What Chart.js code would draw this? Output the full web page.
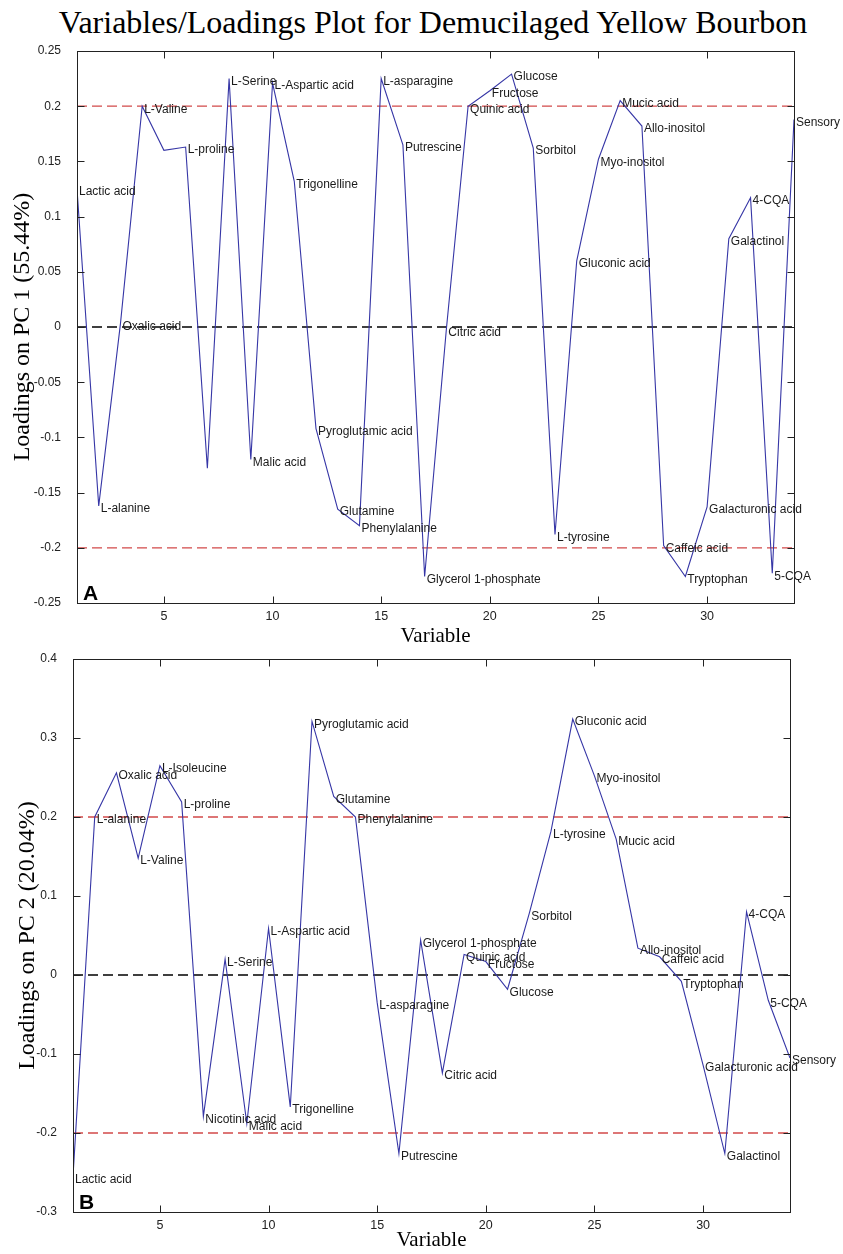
<!DOCTYPE html>
<html><head><meta charset="utf-8">
<script src="https://cdn.jsdelivr.net/npm/chart.js@4.4.1/dist/chart.umd.min.js"></script>
<style>
html,body{margin:0;padding:0;background:#fff;}
body{width:843px;height:1254px;position:relative;overflow:hidden;}
#title{position:absolute;left:0;top:6px;width:866px;text-align:center;font-family:'Liberation Serif','Times New Roman',serif;font-size:32px;line-height:32px;color:#000;white-space:nowrap;}
canvas{position:absolute;left:0;}
</style></head><body>
<div id="title">Variables/Loadings Plot for Demucilaged Yellow Bourbon</div>
<canvas id="c1" width="843" height="650" style="top:0"></canvas>
<canvas id="c2" width="843" height="604" style="top:650px"></canvas>
<script>
const variableNames = ['Lactic acid','L-alanine','Oxalic acid','L-Valine','L-Isoleucine','L-proline','Nicotinic acid','L-Serine','Malic acid','L-Aspartic acid','Trigonelline','Pyroglutamic acid','Glutamine','Phenylalanine','L-asparagine','Putrescine','Glycerol 1-phosphate','Citric acid','Quinic acid','Fructose','Glucose','Sorbitol','L-tyrosine','Gluconic acid','Myo-inositol','Mucic acid','Allo-inositol','Caffeic acid','Tryptophan','Galacturonic acid','Galactinol','4-CQA','5-CQA','Sensory'];
const pc1Loadings = [0.125,-0.162,0.003,0.2,0.16,0.163,-0.128,0.225,-0.12,0.221,0.132,-0.092,-0.165,-0.18,0.225,0.165,-0.226,-0.002,0.2,0.214,0.229,0.162,-0.188,0.06,0.152,0.205,0.182,-0.198,-0.226,-0.163,0.08,0.117,-0.223,0.188];
const pc2Loadings = [-0.255,0.2,0.256,0.148,0.265,0.219,-0.179,0.02,-0.188,0.059,-0.167,0.321,0.226,0.2,-0.035,-0.226,0.044,-0.124,0.026,0.017,-0.018,0.078,0.182,0.324,0.252,0.172,0.034,0.023,-0.008,-0.114,-0.226,0.08,-0.032,-0.105];
const pc1HiddenLabels = ['L-Isoleucine','Nicotinic acid'];
const pc1YTicks = [-0.25,-0.2,-0.15,-0.1,-0.05,0,0.05,0.1,0.15,0.2,0.25];
const pc2YTicks = [-0.3,-0.2,-0.1,0,0.1,0.2,0.3,0.4];
const xTicks = [5,10,15,20,25,30];
const thresholdLevels = [0.2,-0.2];
const zeroLevel = 0;
const xRange = [1,34];

function fmt(v){ return String(Number(v.toFixed(2))); }

function makeBoxPlugin(labels, letter){
  return {
    id:'matlabBox',
    afterDatasetsDraw(chart){
      const ctx = chart.ctx, a = chart.chartArea, xs = chart.scales.x, ys = chart.scales.y;
      ctx.save();
      // point labels
      const meta = chart.getDatasetMeta(0);
      ctx.font = '12px "Liberation Sans", Arial, sans-serif';
      ctx.fillStyle = '#1a1a1a';
      ctx.textAlign = 'left';
      ctx.textBaseline = 'middle';
      meta.data.forEach((pt,i)=>{ const t = labels[i]; if(t) ctx.fillText(t, pt.x+2, pt.y+3); });
      // box
      const L = Math.round(a.left)+0.5, T = Math.round(a.top)+0.5, R = Math.round(a.right)+0.5, B = Math.round(a.bottom)+0.5;
      ctx.strokeStyle = '#222'; ctx.lineWidth = 1;
      ctx.strokeRect(L, T, R-L, B-T);
      // inward ticks
      const tl = 7;
      ctx.beginPath();
      xs.ticks.forEach(t=>{ const px = Math.round(xs.getPixelForValue(t.value))+0.5; ctx.moveTo(px,B); ctx.lineTo(px,B-tl); ctx.moveTo(px,T); ctx.lineTo(px,T+tl); });
      ys.ticks.forEach(t=>{ const py = Math.round(ys.getPixelForValue(t.value))+0.5; ctx.moveTo(L,py); ctx.lineTo(L+tl,py); ctx.moveTo(R,py); ctx.lineTo(R-tl,py); });
      ctx.stroke();
      // panel letter
      ctx.fillStyle = '#000';
      ctx.font = 'bold 21px "Liberation Sans", Arial, sans-serif';
      ctx.textBaseline = 'alphabetic';
      ctx.fillText(letter, a.left+6, a.bottom-3);
      ctx.restore();
    }
  };
}

function makeChart(id, values, labels, yTicks, yTitle, padding, yWidth, xHeight, yTitlePad, letter){
  const pts = values.map((v,i)=>({x:i+1, y:v}));
  const refLine = (lvl, color) => ({
    data:[{x:xRange[0],y:lvl},{x:xRange[1],y:lvl}],
    borderColor:color, borderWidth:1.3, borderDash:[10,5], pointRadius:0, fill:false, tension:0
  });
  return new Chart(document.getElementById(id), {
    type:'line',
    data:{ datasets:[
      { data:pts, borderColor:'#3636a6', borderWidth:1.1, pointRadius:0, fill:false, tension:0 },
      refLine(thresholdLevels[0], '#d24a4a'),
      refLine(thresholdLevels[1], '#d24a4a'),
      refLine(zeroLevel, '#000')
    ]},
    options:{
      responsive:false, animation:false, devicePixelRatio:1,
      layout:{ padding: padding },
      plugins:{ legend:{display:false}, tooltip:{enabled:false}, title:{display:false} },
      scales:{
        x:{ type:'linear', min:xRange[0], max:xRange[1],
            grid:{display:false, drawTicks:false}, border:{display:false},
            afterBuildTicks:s=>{ s.ticks = xTicks.map(v=>({value:v})); },
            afterFit:s=>{ s.height = xHeight; },
            ticks:{ padding:6, color:'#222', font:{family:'"Liberation Sans", Arial, sans-serif', size:12.5}, maxRotation:0, callback:v=>fmt(v) },
            title:{ display:true, text:'Variable', color:'#000', font:{family:'"Liberation Serif", "Times New Roman", serif', size:21}, padding:{top:0,bottom:1} }
        },
        y:{ type:'linear', min:yTicks[0], max:yTicks[yTicks.length-1],
            grid:{display:false, drawTicks:true, tickLength:15}, border:{display:false},
            afterBuildTicks:s=>{ s.ticks = yTicks.map(v=>({value:v})); },
            afterFit:s=>{ s.width = yWidth; },
            ticks:{ padding:1, color:'#222', font:{family:'"Liberation Sans", Arial, sans-serif', size:12}, callback:v=>fmt(v) },
            title:{ display:true, text:yTitle, color:'#000', font:{family:'"Liberation Serif", "Times New Roman", serif', size:24}, padding:{top:yTitlePad,bottom:0} }
        }
      }
    },
    plugins:[ makeBoxPlugin(labels, letter) ]
  });
}

const pc1Labels = variableNames.map(n => pc1HiddenLabels.includes(n) ? '' : n);
makeChart('c1', pc1Loadings, pc1Labels, pc1YTicks, 'Loadings on PC 1 (55.44%)', {top:51,right:49,left:0,bottom:0}, 77, 47, 8, 'A');
makeChart('c2', pc2Loadings, variableNames, pc2YTicks, 'Loadings on PC 2 (20.04%)', {top:9,right:53,left:0,bottom:0}, 73, 42, 13, 'B');
</script>
</body></html>
